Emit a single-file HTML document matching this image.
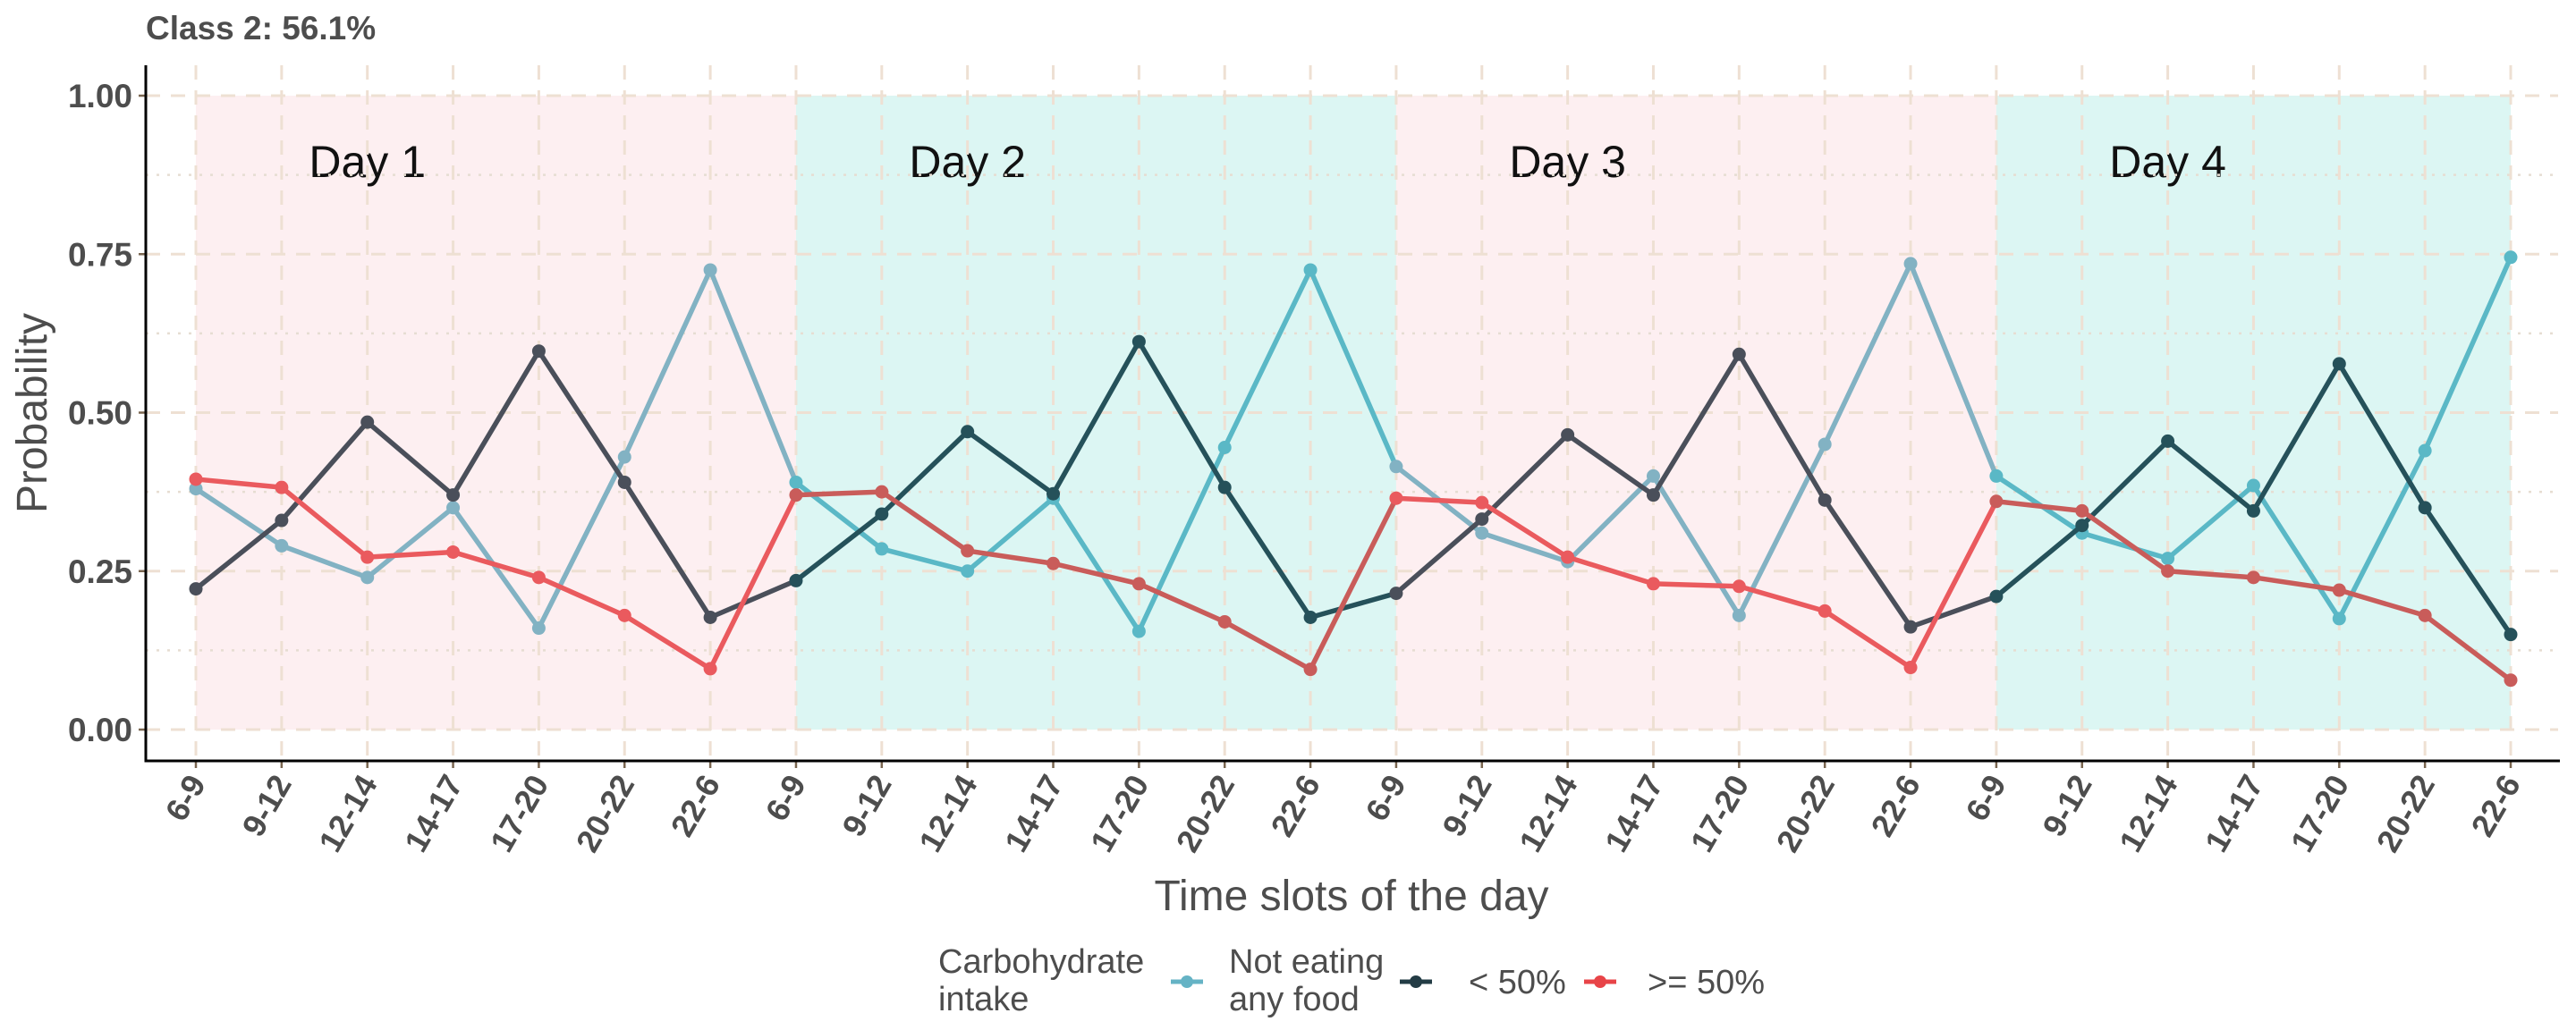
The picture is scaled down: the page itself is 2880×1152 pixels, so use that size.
<!DOCTYPE html>
<html><head><meta charset="utf-8"><style>
html,body{margin:0;padding:0;background:#fff}
svg{display:block;font-family:"Liberation Sans",sans-serif}
</style></head><body>
<svg id="chart" width="2880" height="1152" viewBox="0 0 2880 1152">
<text x="163" y="44" font-size="37" font-weight="bold" fill="#4d4d4d">Class 2: 56.1%</text>
<g id="bg"></g><g id="grid"></g><g id="lines"></g><g id="axes"></g>
<text transform="translate(52,462) rotate(-90)" text-anchor="middle" font-size="48" fill="#4d4d4d">Probability</text>
<text x="1511" y="1018" text-anchor="middle" font-size="48" fill="#4d4d4d">Time slots of the day</text>
<g font-size="38" fill="#4d4d4d">
<text x="1049" y="1088">Carbohydrate<tspan x="1049" y="1130">intake</tspan></text>
<g>
<line x1="1309" x2="1345" y1="1098" y2="1098" stroke="#65b3c5" stroke-width="5"/><circle cx="1327" cy="1098" r="7" fill="#65b3c5"/>
<text x="1374" y="1088">Not eating<tspan x="1374" y="1130">any food</tspan></text></g>
<g>
<line x1="1565" x2="1601" y1="1098" y2="1098" stroke="#233c45" stroke-width="5"/><circle cx="1583" cy="1098" r="7" fill="#233c45"/>
<text x="1642" y="1111">&lt; 50%</text></g>
<g>
<line x1="1771" x2="1807" y1="1098" y2="1098" stroke="#e84448" stroke-width="5"/><circle cx="1789" cy="1098" r="7" fill="#e84448"/>
<text x="1842" y="1111">&gt;= 50%</text></g>
</g>
</svg>
<script>
const slots = ["6-9","9-12","12-14","14-17","17-20","20-22","22-6"];
const days = ["Day 1","Day 2","Day 3","Day 4"];
const yTicks = [0,0.25,0.5,0.75,1];
const yTickLabels = ["0.00","0.25","0.50","0.75","1.00"];
const notEating = [0.38,0.29,0.24,0.35,0.16,0.43,0.725, 0.39,0.285,0.25,0.365,0.155,0.445,0.725, 0.415,0.31,0.265,0.40,0.18,0.45,0.735, 0.40,0.31,0.27,0.385,0.175,0.44,0.745];
const lt50 = [0.222,0.33,0.485,0.37,0.597,0.39,0.177, 0.235,0.34,0.47,0.372,0.612,0.382,0.177, 0.215,0.332,0.465,0.37,0.592,0.362,0.162, 0.21,0.322,0.455,0.345,0.577,0.35,0.15];
const ge50 = [0.395,0.382,0.272,0.28,0.24,0.18,0.096, 0.37,0.375,0.282,0.262,0.23,0.17,0.095, 0.365,0.358,0.272,0.23,0.226,0.187,0.098, 0.36,0.345,0.25,0.24,0.22,0.18,0.078];

const NS="http://www.w3.org/2000/svg";
const X0=219, X1=2807, Y0=816, Y1=107;
const n = notEating.length;
const xs = i => X0 + (X1-X0)*i/(n-1);
const ys = v => Y0 - (Y0-Y1)*v;
function mk(tag, attrs, parent){const e=document.createElementNS(NS,tag);for(const k in attrs)e.setAttribute(k,attrs[k]);parent.appendChild(e);return e;}
const bg=document.getElementById('bg'), grid=document.getElementById('grid'), lines=document.getElementById('lines'), axes=document.getElementById('axes');

days.forEach((d,k)=>{
  const r=mk('rect',{x:xs(k*7),y:ys(1),width:(k===3?xs(n-1):xs(k*7+7))-xs(k*7),height:ys(0)-ys(1),fill:k%2?'#dcf6f3':'#fdeff1'},bg);
  
  
  const t=mk('text',{x:xs(k*7+2),y:198,'text-anchor':'middle','font-size':50,fill:'#111'},bg);
  t.textContent=d;
  
  
});
[0.125,0.375,0.625,0.875].forEach(v=>{
  const l=mk('line',{x1:163,x2:2860,y1:ys(v),y2:ys(v),stroke:'#e6ddd2','stroke-width':2.5,'stroke-dasharray':'3 9'},grid);
  
  
});
yTicks.forEach((v,i)=>{
  const l=mk('line',{x1:163,x2:2860,y1:ys(v),y2:ys(v),stroke:'#eee0d3','stroke-width':3,'stroke-dasharray':'16 12'},grid);
  
  
  mk('line',{x1:155,x2:163,y1:ys(v),y2:ys(v),stroke:'#7a6650','stroke-width':2.5},axes);
  const t=mk('text',{x:148,y:ys(v)+13,'text-anchor':'end','font-size':37,'font-weight':'bold',fill:'#4d4d4d'},axes);
  t.textContent=yTickLabels[i];
  
  
});
for(let i=0;i<n;i++){
  const l=mk('line',{x1:xs(i),x2:xs(i),y1:73,y2:851,stroke:'#eee0d3','stroke-width':3,'stroke-dasharray':'16 12'},grid);
  
  
  mk('line',{x1:xs(i),x2:xs(i),y1:851,y2:859,stroke:'#7a6650','stroke-width':2.5},axes);
  const t=mk('text',{transform:`translate(${xs(i)+12},876) rotate(-60)`,'text-anchor':'end','font-size':36,'font-weight':'bold',fill:'#4d4d4d'},axes);
  t.textContent=slots[i%7];
  
  
}
mk('polyline',{points:'163,73 163,851 2862,851',fill:'none',stroke:'#000','stroke-width':3},axes);

const series=[
 {name:'not-eating',vals:notEating,c:['#82b2c3','#5ab8c6']},
 {name:'lt-50',vals:lt50,c:['#4a4f5a','#25515a']},
 {name:'ge-50',vals:ge50,c:['#ea5a5e','#c95c5a']}
];
series.forEach(s=>{
  const g=mk('g',{},lines);
  
  
  for(let i=0;i<n-1;i++){
    const col=s.c[Math.floor(i/7)%2];
    const l=mk('line',{x1:xs(i),y1:ys(s.vals[i]),x2:xs(i+1),y2:ys(s.vals[i+1]),stroke:col,'stroke-width':5.5,'stroke-linecap':'round'},g);
    
    
  }
  for(let i=0;i<n;i++){
    const col=s.c[Math.floor(i/7)%2];
    const p=mk('circle',{cx:xs(i),cy:ys(s.vals[i]),r:7.5,fill:col},g);
    
    
  }
});
</script>
</body></html>
